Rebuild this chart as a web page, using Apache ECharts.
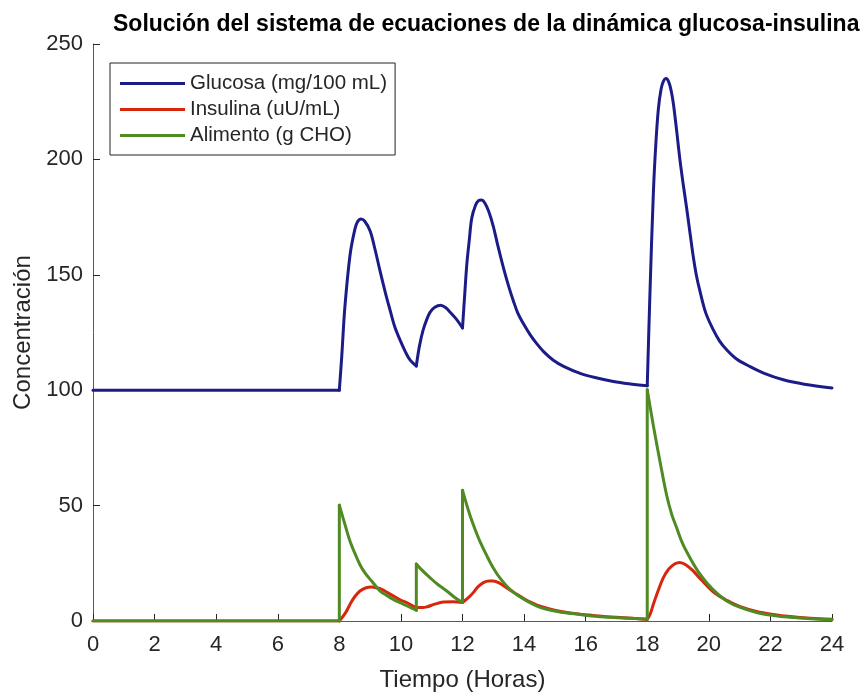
<!DOCTYPE html>
<html>
<head>
<meta charset="utf-8">
<title>Dinámica glucosa-insulina</title>
<script src="https://cdn.jsdelivr.net/npm/echarts@6/dist/echarts.min.js"></script>
<style>
  html, body { margin: 0; padding: 0; background: #fff; overflow: hidden; }
  #chart { width: 866px; height: 697px; }
</style>
</head>
<body>
<div id="chart"></div>
<script>
// Tick values of both axes
const xTicks = [0, 2, 4, 6, 8, 10, 12, 14, 16, 18, 20, 22, 24];
const yTicks = [0, 50, 100, 150, 200, 250];

const seriesNames = ['Glucosa (mg/100 mL)', 'Insulina (uU/mL)', 'Alimento (g CHO)'];

// Glucose (mg/100 mL) over time (hours)
const glucoseT = [0, 8, 8.08, 8.18, 8.35, 8.51, 8.6, 8.7, 8.82, 9.0, 9.15, 9.32, 9.5, 9.65, 9.8, 9.97, 10.15, 10.3, 10.5,
  10.6, 10.72, 10.85, 10.95, 11.1, 11.29, 11.45, 11.6, 11.8, 12.0, 12.07, 12.14, 12.22, 12.3, 12.42, 12.52, 12.62, 12.72,
  12.85, 13.0, 13.15, 13.33, 13.5, 13.65, 13.8, 13.98, 14.2, 14.41, 14.65, 14.95, 15.3, 15.82, 16.3, 16.9, 17.4, 18.0,
  18.09, 18.2, 18.28, 18.36, 18.45, 18.53, 18.61, 18.7, 18.78, 18.85, 18.95, 19.06, 19.17, 19.28, 19.4, 19.5, 19.6, 19.71,
  19.9, 20.15, 20.35, 20.58, 20.9, 21.34, 21.8, 22.42, 23.1, 24.0];
const glucoseV = [100, 100, 115, 136, 158.8, 170, 173.2, 174.2, 173.3, 169, 161.5, 151.8, 142, 134.6, 127.5, 121.8, 116.5, 113, 110.5,
  119, 126, 131, 133.8, 135.9, 136.8, 135.8, 133.8, 130.8, 127, 141, 154.5, 165, 174.5, 180, 182.1, 182.4, 181.2,
  177.5, 171, 162.5, 153, 145, 138.8, 133.3, 128.8, 124, 120.2, 116.5, 113, 110.2, 107.3, 105.5, 103.8, 102.8, 101.9,
  143, 186, 207, 221.7, 230.5, 234, 235, 233.5, 229.5, 224, 213, 200, 189, 178.8, 167, 157.4, 149.5, 143,
  133.5, 126, 121.3, 117.5, 113.5, 110.2, 107.3, 104.5, 102.6, 101];
// Times where the glucose curve has a corner (meal onsets)
const glucoseCorners = [8, 10.5, 12, 18];

// Insulin (uU/mL) over time (hours)
const insulinT = [0, 8, 8.2, 8.35, 8.5, 8.67, 8.85, 9.05, 9.2, 9.38, 9.55, 9.75, 10.0, 10.19, 10.35, 10.5, 10.7, 10.84,
  11.1, 11.38, 11.7, 12.0, 12.2, 12.35, 12.5, 12.68, 12.85, 13.0, 13.2, 13.43, 13.6, 13.76, 14.0, 14.4, 14.8, 15.2, 15.7,
  16.3, 17.0, 17.5, 18.0, 18.1, 18.2, 18.35, 18.52, 18.7, 18.9, 19.06, 19.25, 19.5, 19.7, 19.93, 20.2, 20.58, 21.0,
  21.55, 22.1, 22.64, 23.3, 24.0];
const insulinV = [0, 0, 3.5, 7.3, 10.5, 13, 14.3, 14.7, 14.4, 13.7, 12.4, 10.9, 9.0, 8.0, 6.8, 5.9, 5.8, 6.1,
  7.3, 8.2, 8.3, 8.0, 10.2, 12.3, 14.8, 16.6, 17.3, 17.3, 16.4, 14.4, 13.0, 11.6, 9.6, 7.0, 5.3, 4.1, 3.1,
  2.3, 1.6, 1.2, 0.7, 3.2, 7.3, 13, 18.7, 22.5, 24.8, 25.4, 24.4, 21.6, 18.6, 15.4, 12.0, 9.0, 6.3,
  4.1, 2.8, 1.9, 1.2, 0.8];
const insulinCorners = [8, 10.5, 12, 18];

// Ingested food (g CHO) over time (hours); repeated times are the meal jumps
const foodT = [0, 8, 8, 8.2, 8.35, 8.5, 8.67, 8.85, 9.05, 9.32, 9.55, 9.75, 10.0, 10.19, 10.35, 10.5, 10.5, 10.7, 10.95,
  11.2, 11.49, 11.75, 12.0, 12.0, 12.24, 12.4, 12.57, 12.8, 13.0, 13.25, 13.54, 13.8, 14.09, 14.4, 14.73, 15.2, 15.7,
  16.2, 16.8, 17.4, 18.0, 18.0, 18.2, 18.42, 18.63, 18.8, 18.96, 19.15, 19.39, 19.65, 19.93, 20.25, 20.58, 21.0, 21.55,
  22.1, 22.64, 23.3, 24.0];
const foodV = [0, 0, 50.2, 41, 34.4, 29.5, 24.4, 20.5, 17.3, 13, 11, 9.4, 7.8, 6.6, 5.6, 4.7, 24.7, 21.8, 18.7,
  15.8, 13, 10.2, 8.0, 56.6, 45.9, 40, 34.4, 28, 23, 18, 13.7, 11, 8.7, 6.6, 5.1, 3.8, 3.0,
  2.2, 1.6, 1.2, 0.9, 100.2, 84.5, 68.7, 54.5, 46, 40.2, 33.5, 27.3, 21.5, 16.6, 12.2, 8.7, 6.0, 3.7,
  2.4, 1.6, 1.0, 0.6];
const foodCorners = [8, 10.5, 12, 18];

// Split a curve into pieces at its corners so each piece can be smoothed on its own
function splitAtCorners(t, v, corners) {
  const pieces = [];
  let cur = [];
  for (let i = 0; i < t.length; i++) {
    cur.push([t[i], v[i]]);
    if (corners.includes(t[i]) && cur.length > 1) {
      pieces.push(cur);
      cur = [[t[i], v[i]]];
    }
  }
  if (cur.length > 1) pieces.push(cur);
  return pieces;
}

const FONT = '"Liberation Sans", Arial, Helvetica, sans-serif';
const AXIS_GRAY = '#5a5a5a';
const TEXT = '#262626';

const colors = ['#1c1c88', '#d8260c', '#4f8a22'];
const curves = [
  splitAtCorners(glucoseT, glucoseV, glucoseCorners),
  splitAtCorners(insulinT, insulinV, insulinCorners),
  splitAtCorners(foodT, foodV, foodCorners)
];

const series = [];
curves.forEach((pieces, k) => {
  pieces.forEach(piece => {
    series.push({
      name: seriesNames[k],
      type: 'line',
      data: piece,
      showSymbol: false,
      symbol: 'none',
      smooth: piece.length > 2 ? 0.35 : false,
      animation: false,
      z: 2 + k,
      lineStyle: { color: colors[k], width: 3, cap: 'round', join: 'round' },
      itemStyle: { color: colors[k] }
    });
  });
});

const chart = echarts.init(document.getElementById('chart'), null, { renderer: 'canvas' });

chart.setOption({
  backgroundColor: '#ffffff',
  animation: false,
  title: {
    text: 'Solución del sistema de ecuaciones de la dinámica glucosa-insulina',
    left: 113,
    top: 13,
    padding: 0,
    textStyle: { fontFamily: FONT, fontSize: 23, fontWeight: 'bold', color: '#000' }
  },
  legend: {
    data: seriesNames,
    orient: 'vertical',
    left: 110,
    top: 63,
    padding: [10, 8, 9, 10],
    icon: 'rect',
    itemWidth: 65,
    itemHeight: 3,
    itemGap: 5,
    backgroundColor: '#fff',
    borderColor: '#222',
    borderWidth: 1,
    borderRadius: 0,
    textStyle: { fontFamily: FONT, fontSize: 20.5, color: TEXT, padding: [0, 0, 0, 0] }
  },
  grid: { left: 93, width: 739, top: 44, height: 583, containLabel: false },
  xAxis: {
    type: 'value',
    min: xTicks[0],
    max: xTicks[xTicks.length - 1],
    interval: xTicks[1] - xTicks[0],
    name: 'Tiempo (Horas)',
    nameLocation: 'middle',
    nameGap: 47,
    nameTextStyle: { fontFamily: FONT, fontSize: 24, color: TEXT },
    axisLine: { show: true, lineStyle: { color: AXIS_GRAY, width: 1 } },
    axisTick: { show: true, inside: true, length: 7, lineStyle: { color: '#262626', width: 1 } },
    axisLabel: { fontFamily: FONT, fontSize: 22, color: TEXT, margin: 13 },
    splitLine: { show: false }
  },
  yAxis: {
    type: 'value',
    min: yTicks[0],
    max: yTicks[yTicks.length - 1],
    interval: yTicks[1] - yTicks[0],
    name: 'Concentración',
    nameLocation: 'middle',
    nameGap: 55,
    nameTextStyle: { fontFamily: FONT, fontSize: 24, color: TEXT },
    axisLine: { show: true, lineStyle: { color: AXIS_GRAY, width: 1 } },
    axisTick: { show: true, inside: true, length: 7, lineStyle: { color: '#262626', width: 1 } },
    axisLabel: { fontFamily: FONT, fontSize: 22, color: TEXT, margin: 10 },
    splitLine: { show: false }
  },
  series: series
});
</script>
</body>
</html>
